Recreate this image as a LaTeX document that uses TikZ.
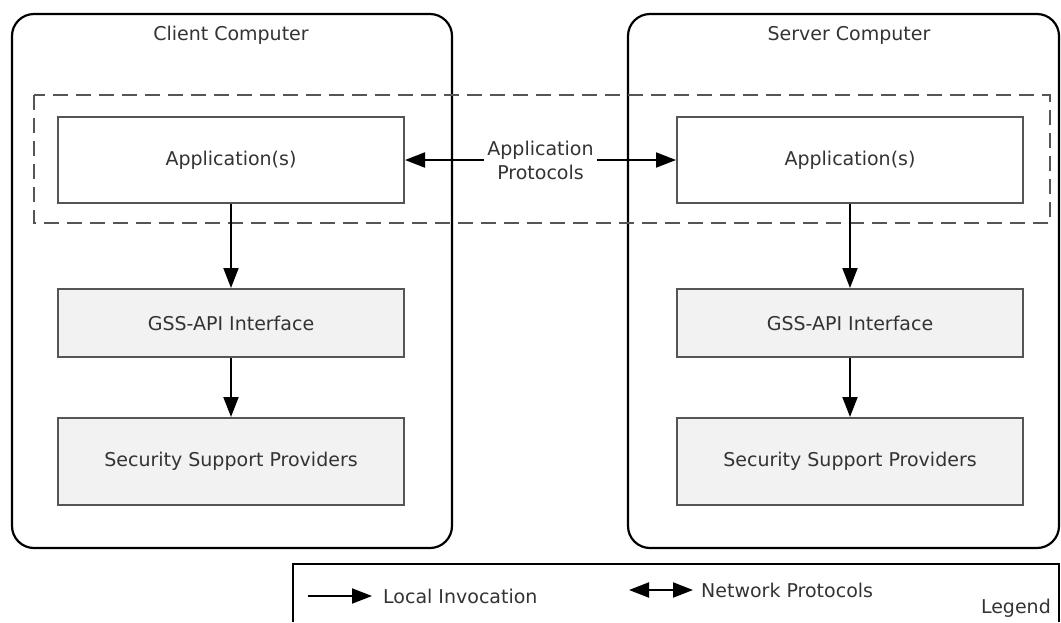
\documentclass[tikz,border=0pt]{standalone}
\usepackage{fontspec}
\setmainfont{DejaVu Sans}
\usetikzlibrary{arrows.meta}
\definecolor{txtgray}{HTML}{333333}
\definecolor{boxgray}{HTML}{555555}
\definecolor{layerfill}{HTML}{F2F2F2}

\begin{document}
\begin{tikzpicture}[x=1pt, y=-1pt,
        every node/.style={font=\fontsize{19}{24}\selectfont, text=txtgray},
        computer/.style={draw, line width=2.2pt, rounded corners=22pt, inner sep=0pt, minimum height=534pt},
        layer/.style={draw=boxgray, line width=2pt, fill=layerfill, inner sep=0pt, minimum width=346pt},
        call/.style={-{Triangle[length=20pt, width=15pt]}, line width=2pt},
        netcall/.style={{Triangle[length=20pt, width=15pt]}-{Triangle[length=20pt, width=15pt]}, line width=2pt}]
    \useasboundingbox (0, 0) rectangle (1061, 622);

    % the two machines
    \node[computer, minimum width=440pt] (client) at (232, 281) {};
    \node (clientTitle) at (231, 35) {Client Computer};
    \node[computer, minimum width=431pt] (server) at (843.5, 281) {};
    \node (serverTitle) at (849, 35) {Server Computer};

    % application layer
    \draw[boxgray, line width=1.5pt, dash pattern=on 15pt off 8pt] (34, 95) rectangle (1050, 223);

    \node[layer, fill=white, minimum height=86pt] (clientApp) at (231, 160) {Application(s)};
    \node[layer, minimum height=68pt] (clientGss) at (231, 323) {GSS-API Interface};
    \node[layer, minimum height=87pt] (clientSsp) at (231, 461.5) {Security Support Providers};

    \node[layer, fill=white, minimum height=86pt] (serverApp) at (850, 160) {Application(s)};
    \node[layer, minimum height=68pt] (serverGss) at (850, 323) {GSS-API Interface};
    \node[layer, minimum height=87pt] (serverSsp) at (850, 461.5) {Security Support Providers};

    \draw[call] (clientApp) -- (clientGss);
    \draw[call] (clientGss) -- (clientSsp);
    \draw[call] (serverApp) -- (serverGss);
    \draw[call] (serverGss) -- (serverSsp);

    \draw[netcall] (clientApp) -- node[fill=white, align=center, inner sep=3pt] (protoLabel) {Application\\Protocols} (serverApp);

    % legend
    \draw[line width=2pt] (293, 622) |- (1059, 564) -- (1059, 622);
    \coordinate (localStart) at (308, 596);
    \coordinate (localEnd) at (372, 596);
    \draw[call] (localStart) -- (localEnd);
    \node[anchor=base west, inner sep=0pt] (localText) at (383, 603) {Local Invocation};
    \coordinate (netStart) at (629, 590);
    \coordinate (netEnd) at (693, 590);
    \draw[netcall] (netStart) -- (netEnd);
    \node[anchor=base west, inner sep=0pt] (netText) at (701, 597) {Network Protocols};
    \node[anchor=base east, inner sep=0pt] (legendText) at (1051, 613) {Legend};
\end{tikzpicture}
\end{document}
